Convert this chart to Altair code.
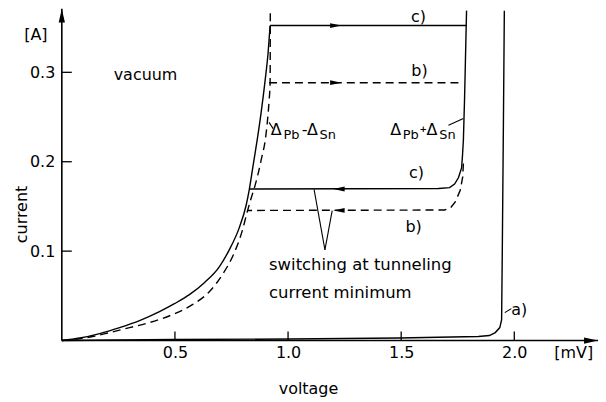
import altair as alt
import pandas as pd

FONT = "DejaVu Sans"
XMAX = 2.37
YMAX = 0.3712

# ---- curve c) (solid): left branch, switching line, right branch with return line
c_left_v = [0, 0.0793, 0.1674, 0.2555, 0.3436, 0.4317, 0.4978, 0.5639, 0.6300, 0.6960,
            0.7401, 0.7841, 0.8150, 0.8282, 0.8458, 0.8634, 0.8811, 0.8987, 0.9119, 0.9207]
c_left_i = [0, 0.0028, 0.0078, 0.0145, 0.0223, 0.0323, 0.0412, 0.0513, 0.0647, 0.0825,
            0.1014, 0.1260, 0.1516, 0.1683, 0.1962, 0.2241, 0.2553, 0.2910, 0.3222, 0.3523]
c_top_v = [0.9207, 1.789]
c_top_i = [0.3523, 0.3523]
c_right_v = [1.789, 1.784, 1.780, 1.775, 1.771, 1.767, 1.753, 1.736, 1.714, 1.665, 0.828]
c_right_i = [0.369, 0.313, 0.269, 0.224, 0.207, 0.193, 0.182, 0.175, 0.171, 0.170, 0.1695]

# ---- curve b) (dashed)
b_left_v = [0, 0.1013, 0.2115, 0.2996, 0.3877, 0.4890, 0.5771, 0.6520, 0.7093, 0.7621,
            0.7974, 0.8194, 0.8370, 0.8546, 0.8811, 0.9031, 0.9163, 0.9207, 0.9216]
b_left_i = [0, 0.0028, 0.0089, 0.0145, 0.0201, 0.0290, 0.0401, 0.0546, 0.0736, 0.0981,
            0.1226, 0.1438, 0.1594, 0.1739, 0.2018, 0.2319, 0.2687, 0.2876, 0.3800]
b_top_v = [0.916, 1.767]
b_top_i = [0.2884, 0.2884]
b_right_v = [1.775, 1.772, 1.761, 1.739, 1.717, 1.692, 0.819]
b_right_i = [0.198, 0.183, 0.168, 0.155, 0.148, 0.146, 0.1455]

# ---- curve a) (solid)
a_v = [0, 0.498, 1.004, 1.489, 1.841, 1.890, 1.916, 1.936, 1.944, 1.947, 1.952, 1.956]
a_i = [0, 0.0011, 0.0017, 0.0028, 0.0045, 0.0056, 0.0089, 0.0145, 0.0234, 0.101, 0.246, 0.369]

# ---- direction arrows on the switching lines
arrow_r_v = [1.211, 1.211]
arrow_r_i = [0.3523, 0.2884]
arrow_l_v = [1.225, 1.225]
arrow_l_i = [0.1695, 0.1455]

# ---- leader lines
lead_v1 = [0.916, 1.709, 1.115, 1.195, 1.958]
lead_i1 = [0.244, 0.2408, 0.169, 0.1453, 0.0312]
lead_v2 = [0.934, 1.775, 1.163, 1.163, 1.987]
lead_i2 = [0.237, 0.2483, 0.1014, 0.1014, 0.0357]

# ---- labels
lab_text = ["vacuum", "c)", "b)", "c)", "b)", "a)", "[A]", "[mV]"]
lab_v = [0.370, 1.577, 1.581, 1.568, 1.555, 2.022, -0.1145, 2.263]
lab_i = [0.2965, 0.3620, 0.302, 0.1873, 0.1274, 0.0346, 0.3420, -0.0134]

note_text = ["switching at tunneling", "current minimum"]
note_v = [0.916, 0.916]
note_i = [0.0847, 0.053]

# Delta labels split into pieces (main glyphs / subscripts)
delta_text = ["Δ", "-", "Δ", "Δ", "Δ"]
delta_v = [0.924, 1.060, 1.084, 1.452, 1.612]
delta_i = [0.2297, 0.2297, 0.2297, 0.2297, 0.2297]
sub_text = ["Pb", "Sn", "Pb", "Sn"]
sub_v = [0.980, 1.139, 1.507, 1.668]
sub_i = [0.2258, 0.2252, 0.2258, 0.2252]
plus_text = ["+"]
plus_v = [1.581]
plus_i = [0.2330]

x_ticks = [0.5, 1.0, 1.5, 2.0]
y_ticks = [0.1, 0.2, 0.3]


def seg_df(name, vs, is_):
    return pd.DataFrame({"seg": name, "order": range(len(vs)), "V": vs, "I": is_})


left_solid = seg_df("c_left", c_left_v, c_left_i)
left_dashed = seg_df("b_left", b_left_v, b_left_i)
solid = pd.concat([
    seg_df("c_top", c_top_v, c_top_i),
    seg_df("c_right", c_right_v, c_right_i),
    seg_df("a", a_v, a_i),
])
dashed = pd.concat([
    seg_df("b_top", b_top_v, b_top_i),
    seg_df("b_right", b_right_v, b_right_i),
])

xs = alt.Scale(domain=[0, XMAX], nice=False, zero=False)
ys = alt.Scale(domain=[0, YMAX], nice=False, zero=False)

x_axis = alt.Axis(
    values=x_ticks, format=".1f", domain=False, ticks=False, tickSize=0, grid=False,
    labelFontSize=16, labelFont=FONT, labelPadding=4, labelColor="black",
    title="voltage", titleFont=FONT, titleFontSize=16, titleFontWeight="normal",
    titleColor="black", titleX=247, titleY=40, titleAlign="center", titleBaseline="top")
y_axis = alt.Axis(
    values=y_ticks, format=".1f", domain=False, ticks=False, tickSize=0, grid=False,
    labelFontSize=16, labelFont=FONT, labelPadding=7, labelColor="black",
    title="current", titleFont=FONT, titleFontSize=16, titleFontWeight="normal",
    titleColor="black", titleX=-40, titleY=206, titleAngle=270, titleAlign="center",
    titleBaseline="middle")


def X(f="V"):
    return alt.X(f"{f}:Q", scale=xs, axis=x_axis)


def Y(f="I"):
    return alt.Y(f"{f}:Q", scale=ys, axis=y_axis)


axis_lines = pd.DataFrame({"V1": [0, 0], "V2": [XMAX, 0], "I1": [0, 0], "I2": [0, YMAX]})
axis_rules = alt.Chart(axis_lines).mark_rule(color="black", strokeWidth=1.6).encode(
    x=X("V1"), x2="V2:Q", y=Y("I1"), y2="I2:Q")

x_arrow = alt.Chart(pd.DataFrame({"V": [XMAX], "I": [0]})).mark_point(
    shape="M-1,-0.45L1,0L-1,0.45Z", filled=True, color="black", opacity=1, size=196,
    xOffset=-7).encode(x=X(), y=Y())
y_arrow = alt.Chart(pd.DataFrame({"V": [0], "I": [YMAX]})).mark_point(
    shape="M-0.45,1L0,-1L0.45,1Z", filled=True, color="black", opacity=1, size=196,
    yOffset=7).encode(x=X(), y=Y())

xt = alt.Chart(pd.DataFrame({"t": x_ticks})).mark_rule(color="black", strokeWidth=1.3).encode(
    x=X("t"), y=alt.value(333), y2=alt.value(324))
yt = alt.Chart(pd.DataFrame({"t": y_ticks})).mark_rule(color="black", strokeWidth=1.3).encode(
    y=Y("t"), x=alt.value(0), x2=alt.value(10))

left_solid_line = alt.Chart(left_solid).mark_line(
    color="black", strokeWidth=1.4, interpolate="monotone").encode(x=X(), y=Y(), order="order:Q")
left_dashed_line = alt.Chart(left_dashed).mark_line(
    color="black", strokeWidth=1.4, strokeDash=[8, 5], interpolate="monotone").encode(
    x=X(), y=Y(), order="order:Q")
solid_lines = alt.Chart(solid).mark_line(color="black", strokeWidth=1.4).encode(
    x=X(), y=Y(), detail="seg:N", order="order:Q")
dashed_lines = alt.Chart(dashed).mark_line(color="black", strokeWidth=1.4, strokeDash=[8, 5]).encode(
    x=X(), y=Y(), detail="seg:N", order="order:Q")

arr_r = alt.Chart(pd.DataFrame({"V": arrow_r_v, "I": arrow_r_i})).mark_point(
    shape="M-1,-0.42L1,0L-1,0.42Z", filled=True, color="black", opacity=1, size=130).encode(x=X(), y=Y())
arr_l = alt.Chart(pd.DataFrame({"V": arrow_l_v, "I": arrow_l_i})).mark_point(
    shape="M1,-0.42L-1,0L1,0.42Z", filled=True, color="black", opacity=1, size=130).encode(x=X(), y=Y())

leaders = alt.Chart(pd.DataFrame({"V1": lead_v1, "I1": lead_i1, "V2": lead_v2, "I2": lead_i2})).mark_rule(
    color="black", strokeWidth=1.1).encode(x=X("V1"), x2="V2:Q", y=Y("I1"), y2="I2:Q")

labels = alt.Chart(pd.DataFrame({"t": lab_text, "V": lab_v, "I": lab_i})).mark_text(
    font=FONT, fontSize=16, align="center", baseline="middle", color="black").encode(
    x=X(), y=Y(), text="t:N")
notes = alt.Chart(pd.DataFrame({"t": note_text, "V": note_v, "I": note_i})).mark_text(
    font=FONT, fontSize=16.5, align="left", baseline="middle", color="black").encode(
    x=X(), y=Y(), text="t:N")
deltas = alt.Chart(pd.DataFrame({"t": delta_text, "V": delta_v, "I": delta_i})).mark_text(
    font=FONT, fontSize=16, align="left", baseline="alphabetic", color="black").encode(
    x=X(), y=Y(), text="t:N")
subs = alt.Chart(pd.DataFrame({"t": sub_text, "V": sub_v, "I": sub_i})).mark_text(
    font=FONT, fontSize=13, align="left", baseline="alphabetic", color="black").encode(
    x=X(), y=Y(), text="t:N")
plus = alt.Chart(pd.DataFrame({"t": plus_text, "V": plus_v, "I": plus_i})).mark_text(
    font=FONT, fontSize=9, fontWeight="bold", align="left", baseline="alphabetic", color="black").encode(
    x=X(), y=Y(), text="t:N")

chart = alt.layer(
    axis_rules, x_arrow, y_arrow, xt, yt, left_solid_line, left_dashed_line,
    solid_lines, dashed_lines, arr_r, arr_l, leaders, labels, notes, deltas, subs, plus,
).properties(
    width=538, height=333,
    autosize=alt.AutoSizeParams(type="none"),
    padding={"left": 54, "top": 0, "right": 0, "bottom": 60},
    background="white",
).configure_view(stroke=None)

chart.save("out.html", embed_options={"renderer": "svg", "actions": False})
